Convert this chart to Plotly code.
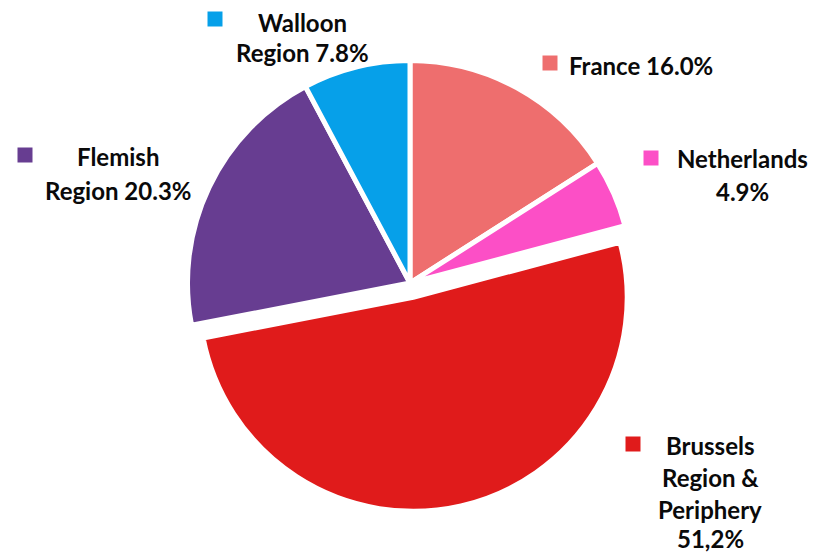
import plotly.graph_objects as go

W, H = 828, 553

regions = ["France", "Netherlands", "Brussels Region & Periphery", "Flemish Region", "Walloon Region"]
shares = [16.0, 4.9, 51.2, 20.3, 7.8]
share_labels = ["16.0%", "4.9%", "51,2%", "20.3%", "7.8%"]
colors = ["#EE6E6E", "#FC4FC6", "#E01B1B", "#673D91", "#06A0E9"]
exploded = [False, False, True, False, False]

# label text lines as shown on the chart
label_lines = [
    ["France " + share_labels[0]],
    ["Netherlands", share_labels[1]],
    ["Brussels", "Region &amp;", "Periphery", share_labels[2]],
    ["Flemish", "Region " + share_labels[3]],
    ["Walloon", "Region " + share_labels[4]],
]
# pixel layout of labels (centre x, y of each line) and marker squares
label_x = [641, 742, 710, 118, 302]
label_y = [[65], [158, 191], [445, 477, 509, 538], [156, 190], [22, 53]]
square_pos = [(550, 63), (651, 158), (633, 444), (25, 155), (215, 19)]


def domain(cx, cy, size):
    return dict(x=[(cx - size / 2) / W, (cx + size / 2) / W],
                y=[1 - (cy + size / 2) / H, 1 - (cy - size / 2) / H])


fig = go.Figure()
# main pie (exploded slice left transparent)
fig.add_trace(go.Pie(
    labels=regions, values=shares, sort=False, direction="clockwise", rotation=0,
    textinfo="none", hoverinfo="label+percent",
    marker=dict(colors=[("rgba(0,0,0,0)" if e else c) for c, e in zip(colors, exploded)],
                line=dict(color="white", width=[(0 if e else 5) for e in exploded])),
    domain=domain(410, 283, 445), showlegend=False,
))
# exploded slice, drawn slightly smaller and offset outward
fig.add_trace(go.Pie(
    labels=regions, values=shares, sort=False, direction="clockwise", rotation=0,
    textinfo="none", hoverinfo="label+percent",
    marker=dict(colors=[(c if e else "rgba(0,0,0,0)") for c, e in zip(colors, exploded)],
                line=dict(color="white", width=[(5 if e else 0) for e in exploded])),
    domain=domain(413.2, 297.3, 428), showlegend=False,
))

font = dict(family="Lato, 'Open Sans', sans-serif", size=24, color="#0a0a0a")
annotations = []
shapes = []
for lines, px, pys, (sx, sy), c in zip(label_lines, label_x, label_y, square_pos, colors):
    for txt, py in zip(lines, pys):
        annotations.append(dict(
            x=px / W, y=1 - py / H, xref="paper", yref="paper",
            text="<b>" + txt + "</b>", showarrow=False,
            xanchor="center", yanchor="middle", align="center", font=font,
        ))
    shapes.append(dict(
        type="rect", xref="paper", yref="paper",
        x0=(sx - 7.5) / W, x1=(sx + 7.5) / W,
        y0=1 - (sy + 7.5) / H, y1=1 - (sy - 7.5) / H,
        fillcolor=c, line=dict(width=0),
    ))

fig.update_layout(
    width=W, height=H,
    margin=dict(l=0, r=0, t=0, b=0),
    paper_bgcolor="white", plot_bgcolor="white",
    annotations=annotations, shapes=shapes,
)

fig.write_html("out.html", config={"displayModeBar": False},
               post_script="document.body.style.margin='0';")
